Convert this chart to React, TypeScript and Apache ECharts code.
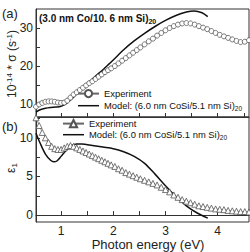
import React, { useEffect, useRef } from "react";
import * as echarts from "echarts";

const FONT = "'Liberation Sans', Arial, sans-serif";

// shared photon-energy grid of the measured points (eV)
const expE = [0.52,0.58,0.64,0.70,0.76,0.82,0.88,0.94,1.00,1.06,1.12,1.18,1.24,1.30,1.36,1.42,1.48,1.54,1.60,1.66,1.72,1.78,1.84,1.90,1.96,2.03,2.10,2.17,2.24,2.31,2.38,2.45,2.52,2.60,2.68,2.76,2.84,2.92,3.00,3.08,3.16,3.24,3.32,3.40,3.48,3.56,3.64,3.72,3.80,3.88,3.96,4.04,4.12,4.20,4.28,4.36,4.44,4.52,4.60];
// (a) conductivity, experiment (10^-14 s^-1)
const sigmaExp = [9.3,9.9,10.3,10.6,10.7,10.7,10.6,10.4,10.3,10.4,10.9,11.7,12.5,13.1,13.7,14.3,14.9,15.5,16.0,16.6,17.2,17.8,18.4,18.9,19.4,20.0,20.7,21.4,22.1,22.8,23.5,24.2,24.9,25.7,26.5,27.2,28.0,28.7,29.4,30.0,30.5,30.9,31.2,31.3,31.2,30.9,30.5,30.1,29.7,29.2,28.7,28.2,27.8,27.4,27.0,26.6,26.3,26.4,26.8];
// (b) epsilon_1, experiment
const eps1Exp = [12.6,11.6,10.7,10.0,9.4,8.9,8.6,8.5,8.5,8.7,8.9,9.0,8.9,8.7,8.5,8.3,8.1,7.9,7.7,7.5,7.3,7.1,6.9,6.7,6.5,6.3,6.0,5.8,5.5,5.3,5.1,4.9,4.7,4.5,4.3,4.1,3.9,3.6,3.3,3.0,2.6,2.3,2.0,1.8,1.6,1.4,1.2,1.1,1.0,0.9,0.8,0.75,0.7,0.6,0.55,0.5,0.45,0.45,0.4];

// (a) model
const modelAE = [0.52,0.6,0.7,0.8,0.9,1.0,1.1,1.2,1.3,1.4,1.5,1.6,1.75,1.9,2.0,2.2,2.4,2.6,2.8,3.0,3.2,3.4,3.55,3.7,3.81];
const modelAV = [7.9,8.5,8.9,9.1,9.2,9.4,10.1,11.3,12.7,14.0,15.3,16.6,18.4,20.3,21.6,24.3,26.6,28.6,30.4,32.0,33.3,34.2,34.5,34.0,33.0];
// (b) model
const modelBE = [0.52,0.6,0.7,0.8,0.86,0.92,1.0,1.1,1.2,1.3,1.4,1.6,1.8,2.0,2.2,2.4,2.6,2.8,3.0,3.2,3.4,3.6,3.81];
const modelBV = [10.6,9.3,7.9,7.1,6.9,7.0,7.6,8.4,9.0,9.2,9.2,9.0,8.8,8.6,8.2,7.6,6.7,5.3,3.8,2.4,1.2,0.3,-0.4];

const xTicks = [1, 1.5, 2, 2.5, 3, 3.5, 4, 4.5];
const xLabels = [1, 2, 3, 4];
const yATicks = [10, 15, 20, 25, 30];
const yALabels = [10, 20, 30];
const yBTicks = [0, 2.5, 5, 7.5, 10, 12.5];
const yBLabels = [0, 5, 10];

const zip = (a: number[], b: number[]) => a.map((v, i) => [v, b[i]]);

const LINE_ICON = "path://M0,0H24V1.7H0Z";

export default function App() {
  const ref = useRef<HTMLDivElement>(null);
  useEffect(() => {
    if (!ref.current) return;
    const chart = echarts.init(ref.current, null, { renderer: "svg" });
    const axisCommon = {
      type: "value",
      splitLine: { show: false },
      axisLine: { show: true, lineStyle: { color: "#333", width: 1 } },
    };
    const legendText = {
      fontSize: 9.4,
      color: "#111",
      fontFamily: FONT,
      rich: { sub: { fontSize: 6.5, fontFamily: FONT, color: "#111", padding: [6, 0, 0, 0] } },
    };
    const legendFmt = (n: string) =>
      n.startsWith("Exp") ? "Experiment" : "Model: (6.0 nm CoSi/5.1 nm Si){sub|20}";
    chart.setOption({
      animation: false,
      textStyle: { fontFamily: FONT },
      grid: [
        { left: 36, top: 9, width: 213, height: 108, show: true, borderColor: "#333", borderWidth: 1 },
        { left: 36, top: 117, width: 213, height: 105, show: true, borderColor: "#333", borderWidth: 1 },
      ],
      xAxis: [
        {
          ...axisCommon, gridIndex: 0, min: 0.52, max: 4.6,
          axisTick: { inside: true, length: 4, customValues: xTicks, lineStyle: { color: "#333" } },
          axisLabel: { show: false },
        },
        {
          ...axisCommon, gridIndex: 1, min: 0.52, max: 4.6,
          axisTick: { inside: true, length: 4, customValues: xTicks, lineStyle: { color: "#333" } },
          axisLabel: { customValues: xLabels, fontSize: 12, color: "#222", margin: 3, fontFamily: FONT },
        },
      ],
      yAxis: [
        {
          ...axisCommon, gridIndex: 0, min: 6.6, max: 35,
          axisTick: { inside: true, length: 4, customValues: yATicks, lineStyle: { color: "#333" } },
          axisLabel: { customValues: yALabels, fontSize: 12, color: "#222", margin: 3, fontFamily: FONT },
        },
        {
          ...axisCommon, gridIndex: 1, min: -0.9, max: 12.7,
          axisTick: { inside: true, length: 4, customValues: yBTicks, lineStyle: { color: "#333" } },
          axisLabel: { customValues: yBLabels, fontSize: 12, color: "#222", margin: 3, fontFamily: FONT },
        },
      ],
      legend: [
        {
          data: ["ExpA", { name: "ModelA", icon: LINE_ICON }], left: 77, top: 89, orient: "vertical",
          itemWidth: 21, itemHeight: 9, itemGap: 3, padding: 0,
          formatter: legendFmt, textStyle: legendText,
        },
        {
          data: ["ExpB", { name: "ModelB", icon: LINE_ICON }], left: 62, top: 119, orient: "vertical",
          itemWidth: 21, itemHeight: 9, itemGap: 2, padding: 0,
          formatter: legendFmt, textStyle: legendText,
        },
      ],
      series: [
        {
          name: "ModelA", type: "line", xAxisIndex: 0, yAxisIndex: 0,
          data: zip(modelAE, modelAV), symbol: "none", smooth: 0.3,
          lineStyle: { color: "#111", width: 1.5 }, itemStyle: { color: "#111" },
        },
        {
          name: "ExpA", type: "line", xAxisIndex: 0, yAxisIndex: 0,
          data: zip(expE, sigmaExp), symbol: "circle", symbolSize: 5, showSymbol: true,
          lineStyle: { color: "#666", width: 0.6 },
          itemStyle: { color: "#fff", borderColor: "#555", borderWidth: 0.8 },
        },
        {
          name: "ModelB", type: "line", xAxisIndex: 1, yAxisIndex: 1,
          data: zip(modelBE, modelBV), symbol: "none", smooth: 0.3,
          lineStyle: { color: "#111", width: 1.5 }, itemStyle: { color: "#111" },
        },
        {
          name: "ExpB", type: "line", xAxisIndex: 1, yAxisIndex: 1,
          data: zip(expE, eps1Exp), symbol: "triangle", symbolSize: 6, showSymbol: true,
          lineStyle: { color: "#666", width: 0.6 },
          itemStyle: { color: "#fff", borderColor: "#555", borderWidth: 0.8 },
        },
      ],
      graphic: [
        { type: "text", left: 2, top: 7, style: { text: "(a)", fontSize: 13, fontFamily: FONT, fill: "#222" } },
        { type: "text", left: 2, top: 120, style: { text: "(b)", fontSize: 13, fontFamily: FONT, fill: "#222" } },
        {
          type: "text", left: 39, top: 13,
          style: {
            text: "(3.0 nm Co/10. 6 nm Si){sub|20}", fontSize: 10, fontWeight: "bold", fontFamily: FONT, fill: "#111",
            rich: { sub: { fontSize: 7, fontWeight: "bold", fontFamily: FONT, fill: "#111", padding: [6, 0, 0, 0] } },
          },
        },
        {
          type: "text", x: 12, y: 64, rotation: Math.PI / 2,
          style: {
            text: "10{sup|-14} * σ (s{sup|-1})", fontSize: 12, fontFamily: FONT, fill: "#222",
            align: "center", verticalAlign: "middle",
            rich: { sup: { fontSize: 8, fontFamily: FONT, fill: "#222", padding: [0, 0, 6, 0] } },
          },
        },
        {
          type: "text", x: 11, y: 168, rotation: Math.PI / 2,
          style: {
            text: "ε{sub|1}", fontSize: 12, fontFamily: FONT, fill: "#222",
            align: "center", verticalAlign: "middle",
            rich: { sub: { fontSize: 8, fontFamily: FONT, fill: "#222", padding: [6, 0, 0, 0] } },
          },
        },
        {
          type: "text", x: 148, y: 244,
          style: {
            text: "Photon energy (eV)", fontSize: 13, fontFamily: FONT, fill: "#222",
            align: "center", verticalAlign: "middle",
          },
        },
      ],
    });
    return () => chart.dispose();
  }, []);
  return (
    <div
      ref={ref}
      style={{ position: "absolute", left: 0, top: 0, width: 250, height: 252, background: "#fff" }}
    />
  );
}
